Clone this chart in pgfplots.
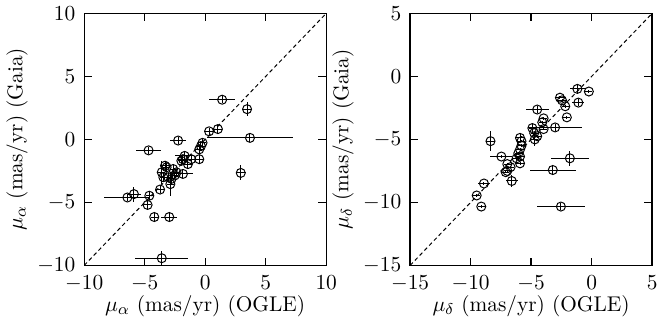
\documentclass[border=0pt]{standalone}
\usepackage{pgfplots}
\usepackage{pgfplotstable}
\pgfplotsset{compat=1.18}

\pgfplotstableread{
x y ex ey
1.40 3.15 1.05 0.3
3.46 2.40 0.40 0.55
3.70 0.12 3.55 0.3
2.94 -2.66 0.40 0.60
0.32 0.64 0.3 0.3
1.05 0.82 0.3 0.3
-2.24 -0.09 0.65 0.3
-4.68 -0.87 1.05 0.3
-0.22 -0.27 0.3 0.3
-0.35 -0.53 0.3 0.3
-0.49 -0.79 0.3 0.3
-1.70 -1.31 0.80 0.3
-1.84 -1.57 0.3 0.3
-1.97 -1.70 0.3 0.3
-1.16 -1.57 0.3 0.3
-0.49 -1.57 0.3 0.3
-1.43 -1.96 0.3 0.3
-3.32 -2.09 0.3 0.3
-3.59 -2.61 0.3 0.90
-2.65 -2.35 0.3 0.3
-2.37 -2.61 0.3 0.3
-2.51 -2.86 0.3 0.3
-2.78 -3.13 0.3 0.3
-3.05 -3.00 0.3 0.3
-1.84 -2.74 0.80 0.3
-3.46 -3.00 0.3 0.3
-2.88 -3.55 0.3 0.95
-3.73 -3.98 0.3 0.3
-4.62 -4.47 0.3 0.3
-6.43 -4.61 1.90 0.3
-5.89 -4.34 0.60 0.60
-4.76 -5.20 0.3 0.3
-4.21 -6.16 0.3 0.3
-2.97 -6.16 0.65 0.3
-3.59 -9.43 2.20 0.60
-3.19 -2.21 0.3 0.3
}\ra

\pgfplotstableread{
x y ex ey
-1.18 -0.99 0.60 0.3
-0.23 -1.20 0.3 0.1
-2.62 -1.69 0.3 0.1
-2.45 -1.90 0.3 0.1
-2.18 -2.37 0.3 0.1
-1.10 -2.08 0.50 0.3
-2.05 -3.25 0.3 0.1
-4.50 -2.63 0.95 0.3
-3.97 -3.33 0.3 0.1
-4.08 -3.64 0.3 0.1
-3.02 -4.05 2.20 0.3
-4.90 -4.10 0.3 0.3
-3.97 -4.18 0.3 0.1
-4.75 -4.50 0.3 0.1
-4.50 -4.75 0.3 0.1
-4.70 -5.00 0.3 0.5
-5.92 -4.88 0.3 0.3
-5.80 -5.14 0.3 0.1
-5.80 -5.50 0.3 0.1
-5.92 -5.80 0.3 0.1
-6.06 -6.10 0.3 0.1
-5.92 -6.36 0.3 0.1
-6.20 -6.50 0.3 0.1
-5.92 -6.90 0.3 0.1
-8.36 -5.14 0.40 0.78
-7.46 -6.36 0.90 0.1
-6.97 -6.96 0.3 0.1
-6.70 -7.20 0.3 0.1
-6.97 -7.50 0.3 0.1
-7.10 -7.60 0.3 0.1
-6.60 -8.30 0.50 0.50
-8.90 -8.50 0.50 0.1
-9.50 -9.45 0.3 0.1
-9.12 -10.33 0.3 0.1
-1.80 -6.50 1.60 0.60
-3.21 -7.43 1.90 0.3
-2.54 -10.33 2.00 0.3
}\rb

\pgfplotsset{
  every axis/.append style={
    scale only axis, width=123.4bp, height=128.5bp,
    font=\fontsize{10.9}{13}\selectfont,
    tick align=inside, major tick length=4bp,
    axis line style={line width=0.7bp},
    every tick/.style={line width=0.7bp, black},
    minor tick num=0,
    xticklabel style={yshift=-1.5bp},
    yticklabel style={xshift=-1bp},
    xlabel style={yshift=4.5bp},
    ylabel style={yshift=-2bp},
  },
  pts/.style={only marks, mark=o, mark size=2.3bp, black,
    mark options={line width=0.5bp},
    line width=0.5bp,
    error bars/.cd, x dir=both, x explicit, y dir=both, y explicit,
    error mark=none, error bar style={line width=0.5bp, black}},
}

\begin{document}
\begin{tikzpicture}
\begin{axis}[at={(0,0)},
  xmin=-10, xmax=10, ymin=-10, ymax=10,
  xtick={-10,-5,0,5,10}, ytick={-10,-5,0,5,10},
  xlabel={$\mu_\alpha$ (mas/yr) (OGLE)},
  ylabel={$\mu_\alpha$ (mas/yr) (Gaia)},
]
\addplot[black, dashed, line width=0.5bp, dash pattern=on 2bp off 1.5bp] coordinates {(-10,-10) (10,10)};
\addplot[pts] table[x=x, y=y, x error=ex, y error=ey] {\ra};
\end{axis}
\begin{axis}[at={(166.2bp,0)},
  xmin=-15, xmax=5, ymin=-15, ymax=5,
  xtick={-15,-10,-5,0,5}, ytick={-15,-10,-5,0,5},
  xlabel={$\mu_\delta$ (mas/yr) (OGLE)},
  ylabel={$\mu_\delta$ (mas/yr) (Gaia)},
]
\addplot[black, dashed, line width=0.5bp, dash pattern=on 2bp off 1.5bp] coordinates {(-15,-15) (5,5)};
\addplot[pts] table[x=x, y=y, x error=ex, y error=ey] {\rb};
\end{axis}
\end{tikzpicture}
\end{document}
